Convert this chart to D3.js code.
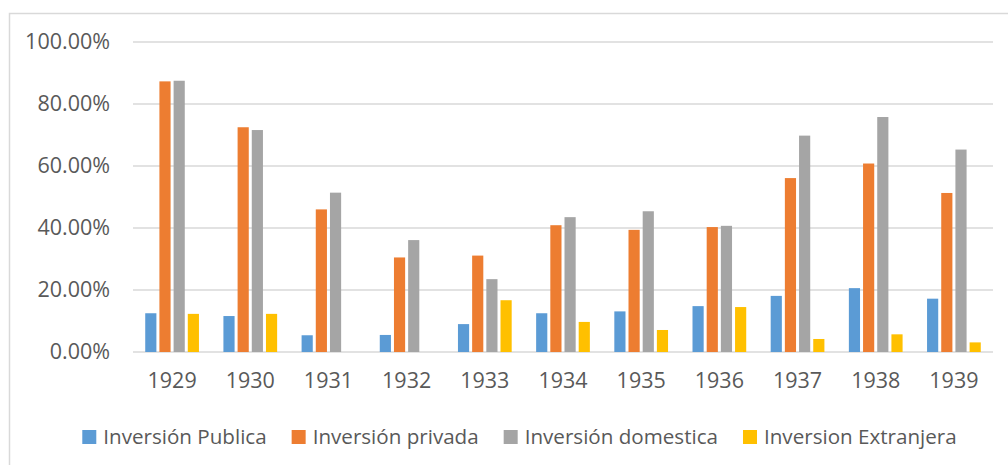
<!DOCTYPE html>
<html>
<head>
<meta charset="utf-8">
<script src="https://cdn.jsdelivr.net/npm/d3@7"></script>
<style>
  html, body { margin: 0; padding: 0; background: #fff; }
  svg { display: block; font-family: "Open Sans", sans-serif; }
</style>
</head>
<body>
<svg id="chart" width="1008" height="465"></svg>
<script>
// data
var years = ['1929', '1930', '1931', '1932', '1933', '1934', '1935', '1936', '1937', '1938', '1939'];
var seriesNames = ['Inversión Publica', 'Inversión privada', 'Inversión domestica', 'Inversion Extranjera'];
var publica    = [12.5, 11.6, 5.4, 5.5, 9.0, 12.5, 13.1, 14.8, 18.1, 20.6, 17.2];
var privada    = [87.3, 72.5, 46.0, 30.5, 31.1, 40.9, 39.4, 40.3, 56.1, 60.8, 51.3];
var domestica  = [87.5, 71.6, 51.4, 36.1, 23.5, 43.5, 45.4, 40.7, 69.8, 75.8, 65.3];
var extranjera = [12.3, 12.3, 0, 0, 16.7, 9.7, 7.1, 14.5, 4.2, 5.7, 3.1];
var yTicks = [0, 20, 40, 60, 80, 100];

var colors = ['#5B9BD5', '#ED7D31', '#A5A5A5', '#FFC000'];
var values = [publica, privada, domestica, extranjera];

var margin = {top: 42, right: 15, bottom: 113, left: 133};
var svg = d3.select('#chart');
var innerW = 993 - margin.left, innerH = 352 - margin.top;

// chart frame (runs off the right and bottom like the original)
svg.append('rect')
    .attr('x', 9.5).attr('y', 13.5)
    .attr('width', 1030).attr('height', 480)
    .attr('fill', 'none')
    .attr('stroke', '#d9d9d9')
    .attr('stroke-width', 1.5);

var g = svg.append('g').attr('transform', 'translate(' + margin.left + ',' + margin.top + ')');

// excel style: gap width 219%, overlap -27%
var x = d3.scaleBand().domain(years).range([0, innerW])
    .paddingInner(2.19 / 7).paddingOuter(2.19 / 14);
var xs = d3.scaleBand().domain(d3.range(4)).range([0, x.bandwidth()])
    .paddingInner(0.27 / 1.27).paddingOuter(0);
var y = d3.scaleLinear().domain([0, 100]).range([innerH, 0]);

// gridlines
g.append('g').selectAll('line').data(yTicks).join('line')
    .attr('x1', 0).attr('x2', innerW)
    .attr('y1', function(d) { return y(d); })
    .attr('y2', function(d) { return y(d); })
    .attr('stroke', '#d9d9d9')
    .attr('stroke-width', 1.5);

// y labels
var yAxis = d3.axisLeft(y).tickValues(yTicks)
    .tickFormat(function(d) { return d3.format('.2f')(d) + '%'; })
    .tickSize(0).tickPadding(23);
g.append('g').call(yAxis)
    .call(function(a) { a.select('.domain').remove(); })
    .selectAll('text')
    .attr('fill', '#595959')
    .style('font-size', '21.5px')
    .style('font-family', '"Open Sans", sans-serif');

// x labels
var xAxis = d3.axisBottom(x).tickSize(0).tickPadding(21);
g.append('g').attr('transform', 'translate(0,' + innerH + ')').call(xAxis)
    .call(function(a) { a.select('.domain').remove(); })
    .selectAll('text')
    .attr('fill', '#595959')
    .style('font-size', '21.5px')
    .style('font-family', '"Open Sans", sans-serif');

// bars
var groups = g.append('g').selectAll('g').data(years).join('g')
    .attr('transform', function(d) { return 'translate(' + x(d) + ',0)'; });
groups.selectAll('rect')
    .data(function(d, i) { return values.map(function(v, s) { return {s: s, v: v[i]}; }); })
    .join('rect')
    .filter(function(d) { return d.v > 0; })
    .attr('x', function(d) { return xs(d.s); })
    .attr('width', xs.bandwidth())
    .attr('y', function(d) { return y(d.v); })
    .attr('height', function(d) { return innerH - y(d.v); })
    .attr('fill', function(d) { return colors[d.s]; });

// legend, centred under the frame
var legend = svg.append('g').attr('class', 'legend');
var items = legend.selectAll('g').data(seriesNames).join('g');
items.append('rect')
    .attr('width', 14).attr('height', 14)
    .attr('y', -7)
    .attr('fill', function(d, i) { return colors[i]; });
items.append('text')
    .attr('x', 21)
    .attr('dy', '0.35em')
    .attr('fill', '#595959')
    .style('font-size', '20.6px')
    .text(function(d) { return d; });

var pos = 0, offsets = [];
items.each(function() {
    offsets.push(pos);
    pos += this.getBBox().width + 25;
});
var total = pos - 25;
var startX = 519.5 - total / 2;
items.attr('transform', function(d, i) { return 'translate(' + (startX + offsets[i]) + ',437)'; });
</script>
</body>
</html>
